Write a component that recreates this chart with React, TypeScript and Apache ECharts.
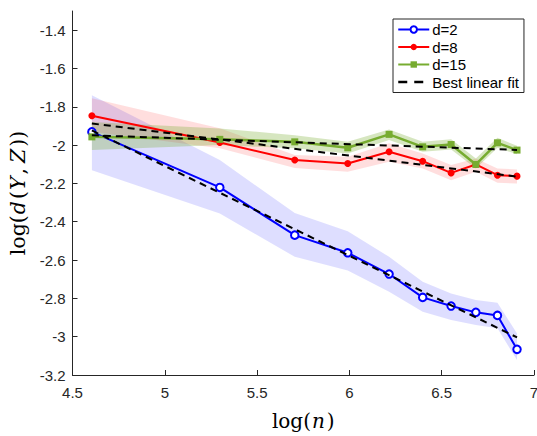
import React, { useEffect, useRef } from "react";
import * as echarts from "echarts";

const LOG_N = [4.605, 5.298, 5.704, 5.991, 6.215, 6.397, 6.551, 6.685, 6.802, 6.908];

const D2 = [-1.931, -2.221, -2.47, -2.562, -2.673, -2.795, -2.84, -2.873, -2.889, -3.066];
const D2_HI = [-1.74, -2.078, -2.355, -2.45, -2.583, -2.713, -2.774, -2.809, -2.823, -2.983];
const D2_LO = [-2.131, -2.357, -2.583, -2.655, -2.765, -2.87, -2.913, -2.939, -2.956, -3.122];

const D8 = [-1.847, -1.986, -2.078, -2.096, -2.035, -2.084, -2.145, -2.101, -2.157, -2.162];
const D8_HI = [-1.755, -1.912, -2.052, -2.061, -1.99, -2.044, -2.104, -2.07, -2.122, -2.127];
const D8_LO = [-1.93, -2.016, -2.12, -2.139, -2.087, -2.122, -2.183, -2.139, -2.197, -2.2];

const D15 = [-1.957, -1.97, -1.983, -2.014, -1.944, -2.009, -1.997, -2.101, -1.988, -2.026];
const D15_HI = [-1.88, -1.913, -1.948, -1.983, -1.919, -1.983, -1.97, -2.07, -1.962, -2.004];
const D15_LO = [-2.026, -2.0, -2.017, -2.044, -1.974, -2.035, -2.023, -2.122, -2.014, -2.048];

const X_TICKS = [4.5, 5, 5.5, 6, 6.5, 7];
const Y_TICKS = [-3.2, -3, -2.8, -2.6, -2.4, -2.2, -2, -1.8, -1.6, -1.4];

const BLUE = "#0000FF";
const RED = "#FF0000";
const GREEN = "#77AC30";
const AXIS = "#262626";

function linearFit(xs: number[], ys: number[]) {
  const n = xs.length;
  const mx = xs.reduce((a, b) => a + b, 0) / n;
  const my = ys.reduce((a, b) => a + b, 0) / n;
  let sxy = 0;
  let sxx = 0;
  for (let i = 0; i < n; i++) {
    sxy += (xs[i] - mx) * (ys[i] - my);
    sxx += (xs[i] - mx) * (xs[i] - mx);
  }
  const slope = sxy / sxx;
  const b = my - slope * mx;
  return [
    [xs[0], b + slope * xs[0]],
    [xs[n - 1], b + slope * xs[n - 1]],
  ];
}

function band(hi: number[], lo: number[], fill: string) {
  return {
    type: "custom",
    silent: true,
    z: 1,
    clip: true,
    data: LOG_N.map((x, i) => [x, lo[i], hi[i]]),
    encode: { x: 0, y: [1, 2] },
    renderItem: (params: any, api: any) => {
      if (params.dataIndex !== 0) return null;
      const pts: number[][] = [];
      for (let i = 0; i < LOG_N.length; i++) pts.push(api.coord([LOG_N[i], hi[i]]));
      for (let i = LOG_N.length - 1; i >= 0; i--) pts.push(api.coord([LOG_N[i], lo[i]]));
      return { type: "polygon", shape: { points: pts }, style: { fill, stroke: null } };
    },
  };
}

const pairs = (ys: number[]) => LOG_N.map((x, i) => [x, ys[i]]);

const serifRich = (size: number) => ({
  r: { fontFamily: "DejaVu Serif", fontSize: size, color: "#000" },
  c: { fontFamily: "DejaVu Serif", fontSize: size, color: "#000", padding: [0, 4, 0, 0] },
  i: { fontFamily: "DejaVu Serif", fontStyle: "italic", fontSize: size, color: "#000", padding: [0, 2, 0, 1] },
});

export default function App() {
  const ref = useRef<HTMLDivElement>(null);
  useEffect(() => {
    if (!ref.current) return;
    const chart = echarts.init(ref.current, null, { renderer: "svg" });
    const fitSeries = (ys: number[]) => ({
      name: "Best linear fit",
      type: "line",
      data: linearFit(LOG_N, ys),
      symbol: "none",
      z: 4,
      lineStyle: { color: "#000", width: 2, type: [7, 5] as any },
      itemStyle: { color: "#000" },
    });
    chart.setOption({
      animation: false,
      backgroundColor: "#fff",
      grid: { left: 72.5, right: 3, top: 11, bottom: 61, containLabel: false, outerBoundsMode: "none" },
      legend: {
        data: [
          "d=2",
          "d=8",
          "d=15",
          { name: "Best linear fit", itemStyle: { opacity: 0 }, lineStyle: { type: [9, 7], width: 2.5 } },
        ],
        orient: "vertical",
        left: 393,
        top: 19,
        padding: [3, 5, 3, 4],
        itemGap: 2.5,
        itemWidth: 31,
        itemHeight: 8,
        borderColor: AXIS,
        borderWidth: 1,
        backgroundColor: "#fff",
        textStyle: { fontFamily: "Liberation Sans", fontSize: 15, color: "#000", padding: [0, 0, 0, -2] },
      },
      xAxis: {
        type: "value",
        min: 4.5,
        max: 7,
        splitLine: { show: false },
        axisLine: { show: true, lineStyle: { color: AXIS, width: 1 } },
        axisTick: { show: true, inside: true, length: 5, customValues: X_TICKS, lineStyle: { color: AXIS } },
        axisLabel: {
          customValues: X_TICKS,
          color: AXIS,
          fontFamily: "Liberation Sans",
          fontSize: 15,
          margin: 10,
        },
        name: "{r|log(}{i|n}{r|)}",
        nameLocation: "middle",
        nameGap: 36,
        nameTextStyle: { rich: serifRich(20) },
      },
      yAxis: {
        type: "value",
        min: -3.2,
        max: -1.3,
        splitLine: { show: false },
        axisLine: { show: true, lineStyle: { color: AXIS, width: 1 } },
        axisTick: { show: true, inside: true, length: 5, customValues: Y_TICKS, lineStyle: { color: AXIS } },
        axisLabel: {
          customValues: Y_TICKS,
          color: AXIS,
          fontFamily: "Liberation Sans",
          fontSize: 15,
          margin: 7,
        },
        name: "{r|log(}{i|d}{r|(}{i|Y}{c|,}{i|Z}{r|))}",
        nameLocation: "middle",
        nameGap: 38,
        nameTextStyle: { rich: serifRich(20.5) },
      },
      series: [
        band(D2_HI, D2_LO, "rgba(0,0,255,0.13)"),
        band(D8_HI, D8_LO, "rgba(255,0,0,0.13)"),
        band(D15_HI, D15_LO, "rgba(119,172,48,0.3)"),
        {
          name: "d=2",
          type: "line",
          data: pairs(D2),
          symbol: "emptyCircle",
          symbolSize: 7.5,
          z: 3,
          lineStyle: { color: BLUE, width: 2 },
          itemStyle: { color: BLUE, borderColor: BLUE, borderWidth: 1.8 },
        },
        {
          name: "d=8",
          type: "line",
          data: pairs(D8),
          symbol: "circle",
          symbolSize: 7,
          z: 3,
          lineStyle: { color: RED, width: 2 },
          itemStyle: { color: RED },
        },
        {
          name: "d=15",
          type: "line",
          data: pairs(D15),
          symbol: "rect",
          symbolSize: 7,
          z: 3,
          lineStyle: { color: GREEN, width: 2.5 },
          itemStyle: { color: GREEN },
        },
        fitSeries(D2),
        fitSeries(D8),
        fitSeries(D15),
      ],
    });
    return () => chart.dispose();
  }, []);
  return <div ref={ref} style={{ width: 537, height: 436, position: "absolute", left: 0, top: 0 }} />;
}
